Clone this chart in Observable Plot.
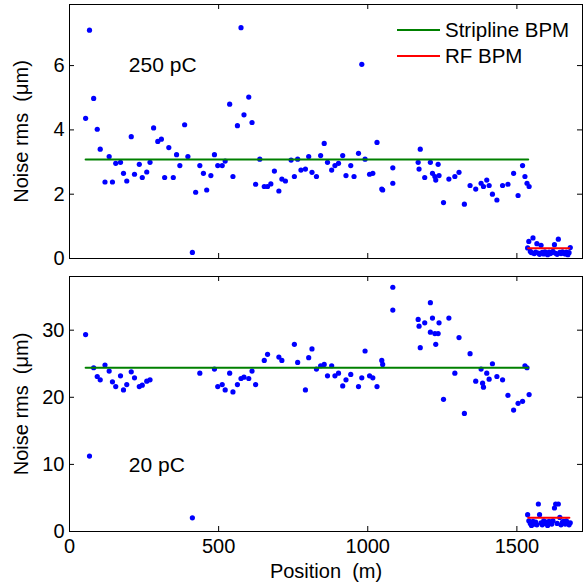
<!DOCTYPE html>
<html>
<head>
<meta charset="utf-8">
<script src="https://cdn.jsdelivr.net/npm/d3@7"></script>
<script src="https://cdn.jsdelivr.net/npm/@observablehq/plot@0.6"></script>
<style>
  html, body { margin: 0; padding: 0; background: #fff; }
  #wrap { position: relative; width: 583px; height: 584px; background: #fff; font-family: "Liberation Sans", Arial, sans-serif; }
  #wrap svg { display: block; overflow: visible; }
  .legend { position: absolute; left: 397px; top: 17px; font-size: 20.5px; color: #000; }
  .legend .row { display: flex; align-items: center; height: 26px; }
  .legend .sw { width: 43px; height: 2px; margin-right: 5px; }
</style>
</head>
<body>
<div id="wrap"></div>
<script>
// ---------- data ----------
const xDomain = [0, 1720];
const xTicks = [0, 500, 1000, 1500];

// 250 pC, stripline BPMs
const posTop = [54,67,81,93,103,119,133,144,155,171,181,192,207,218,234,244,259,270,282,296,308,319,333,348,359,370,386,397,412,423,437,449,460,474,486,497,512,522,537,548,563,575,585,601,612,624,638,653,664,675,687,702,712,724,743,754,765,776,791,802,813,828,842,854,865,879,890,902,916,927,943,954,969,980,991,1006,1017,1031,1047,1050,1084,1084,1169,1172,1176,1191,1210,1217,1225,1228,1236,1239,1254,1272,1292,1306,1324,1343,1362,1380,1388,1399,1407,1418,1433,1452,1470,1489,1504,1519,1527,1534,1541];
const noiseTop = [4.36,7.10,4.98,4.02,3.40,2.38,3.17,2.38,2.96,2.99,2.65,2.41,3.79,2.62,2.93,2.52,2.69,2.99,4.06,3.64,3.71,2.52,3.45,2.52,3.23,2.89,4.16,3.17,0.19,2.06,2.89,2.65,2.13,2.58,3.23,2.89,2.89,3.03,4.80,2.55,4.13,7.18,4.47,5.02,4.23,2.31,3.09,2.24,2.24,2.32,2.72,2.10,2.47,2.41,3.06,2.55,3.09,2.75,2.78,3.17,2.68,2.55,3.20,3.58,2.99,2.75,2.89,2.96,3.20,2.58,2.89,2.55,3.27,6.04,3.09,2.62,2.65,3.61,2.16,2.13,2.82,2.34,2.99,2.78,3.40,2.52,2.99,2.65,2.55,2.44,2.93,2.58,1.74,2.47,2.55,2.68,1.69,2.27,2.16,2.34,2.24,2.44,2.27,2.00,1.82,2.27,2.31,2.65,1.96,2.89,2.55,2.34,2.24];

// 20 pC, stripline BPMs
const posBottom = [54,67,81,93,103,119,133,144,155,171,181,192,207,218,234,244,259,270,412,437,486,497,512,522,537,548,563,575,585,601,612,624,653,664,702,712,754,765,791,802,813,828,842,854,865,879,890,902,916,927,943,969,980,991,1006,1017,1031,1047,1050,1084,1084,1169,1172,1176,1191,1210,1210,1217,1225,1228,1236,1239,1254,1272,1292,1306,1324,1343,1362,1380,1385,1388,1399,1407,1418,1433,1452,1470,1489,1504,1519,1527,1534,1541];
const noiseBottom = [29.35,11.24,24.4,23.1,22.6,24.8,23.9,22.3,21.6,23.2,21.1,21.9,23.8,22.9,21.6,21.8,22.4,22.6,2.04,23.6,24.2,21.6,21.9,21.1,23.6,20.8,21.9,22.8,23.0,22.8,23.9,21.9,25.5,26.4,26.0,25.5,27.9,25.2,21.1,25.9,27.2,24.2,24.7,24.9,23.2,24.7,23.2,23.6,21.7,22.6,23.4,21.6,22.9,26.9,23.2,22.9,21.6,25.5,24.9,36.4,33.0,31.6,30.6,27.4,31.1,34.1,29.7,31.8,29.5,27.9,29.5,31.1,19.7,31.8,23.6,28.9,17.6,26.5,22.4,24.2,22.1,21.5,23.6,22.7,25.0,23.1,22.6,20.3,18.1,19.1,19.4,24.7,24.4,20.4];

// RF BPMs (both charges)
const posRF = [1536,1540,1545,1549,1554,1558,1563,1567,1572,1576,1581,1585,1590,1594,1599,1603,1608,1612,1617,1621,1626,1630,1635,1639,1644,1648,1653,1657,1662,1666,1671,1675,1679];
const noiseRFTop = [0.33,0.53,0.22,0.18,0.64,0.15,0.20,0.46,0.17,0.13,0.41,0.19,0.14,0.21,0.16,0.12,0.20,0.15,0.18,0.22,0.43,0.16,0.13,0.60,0.19,0.15,0.21,0.17,0.14,0.20,0.12,0.18,0.34];
const noiseRFBottom = [2.5,1.6,1.2,0.9,1.5,1.1,1.4,1.0,4.1,2.5,1.3,1.0,1.6,1.2,1.4,0.9,1.5,1.3,1.1,1.6,3.5,4.1,1.2,4.1,2.1,1.0,1.4,1.5,1.1,1.6,1.3,1.0,1.3];

// mean levels
const stripRange = [54, 1538];
const rfRange = [1538, 1676];
const stripMean = [3.08, 24.4];   // top, bottom
const rfMean = [0.32, 2.04];      // top, bottom

const yDomains = [[0, 7.9], [0, 38]];
const yTicks = [[0, 2, 4, 6], [0, 10, 20, 30]];
const chargeLabels = ["250 pC", "20 pC"];
const chargeLabelPos = [[199, 6.0], [199, 9.85]];
const seriesNames = ["Stripline BPM", "RF BPM"];
const seriesColors = ["#008000", "#ff0000"];
const yLabel = "Noise rms\u00a0 (\u03bcm)";
const xLabel = "Position\u00a0 (m)";

// ---------- drawing ----------
const W = 583, ML = 69, MR = 1;
const TICK = 5;

function panel(i, pos, noise, rfNoise, opts) {
  const {height, marginTop, marginBottom, showX} = opts;
  const ph = height - marginTop - marginBottom;
  const pw = W - ML - MR;
  const stripSeg = stripRange.map(x => ({x, y: stripMean[i]}));
  const rfSeg = rfRange.map(x => ({x, y: rfMean[i]}));
  const pts = pos.map((x, k) => ({x, y: noise[k]}));
  const rfPts = posRF.map((x, k) => ({x, y: rfNoise[k]}));
  return Plot.plot({
    width: W, height, marginLeft: ML, marginRight: MR, marginTop, marginBottom,
    style: {fontFamily: "'Liberation Sans', Arial, sans-serif", fontSize: "20px", color: "#000", background: "transparent", overflow: "visible"},
    x: showX
      ? {domain: xDomain, ticks: xTicks, tickSize: 0, tickPadding: 7, tickFormat: d => String(d), label: xLabel, labelAnchor: "center", labelOffset: 46, labelArrow: "none"}
      : {domain: xDomain, axis: null},
    y: {domain: yDomains[i], ticks: yTicks[i], tickSize: 0, tickPadding: 5, tickFormat: d => String(d), label: yLabel, labelAnchor: "center", labelOffset: 56, labelArrow: "none"},
    marks: [
      Plot.dot(pts, {x: "x", y: "y", r: 2.6, fill: "#0000ff", stroke: "none"}),
      Plot.dot(rfPts, {x: "x", y: "y", r: 2.6, fill: "#0000ff", stroke: "none"}),
      Plot.line(stripSeg, {x: "x", y: "y", stroke: seriesColors[0], strokeWidth: 2}),
      Plot.line(rfSeg, {x: "x", y: "y", stroke: seriesColors[1], strokeWidth: 2}),
      Plot.text([chargeLabels[i]], {x: () => chargeLabelPos[i][0], y: () => chargeLabelPos[i][1], text: d => d, textAnchor: "start", fontSize: 21}),
      // inward ticks on all four sides
      Plot.ruleX(xTicks, {x: d => d, insetTop: ph - TICK, stroke: "#000"}),
      Plot.ruleX(xTicks, {x: d => d, insetBottom: ph - TICK, stroke: "#000"}),
      Plot.ruleY(yTicks[i], {y: d => d, insetRight: pw - TICK, stroke: "#000"}),
      Plot.ruleY(yTicks[i], {y: d => d, insetLeft: pw - TICK, stroke: "#000"}),
      Plot.frame({stroke: "#000"})
    ]
  });
}

const wrap = document.getElementById("wrap");
wrap.appendChild(panel(0, posTop, noiseTop, noiseRFTop, {height: 262, marginTop: 4, marginBottom: 4, showX: false}));
wrap.appendChild(panel(1, posBottom, noiseBottom, noiseRFBottom, {height: 322, marginTop: 14, marginBottom: 53, showX: true}));

// legend (inside top panel, no box)
const leg = document.createElement("div");
leg.className = "legend";
seriesNames.forEach((name, k) => {
  const row = document.createElement("div");
  row.className = "row";
  const sw = document.createElement("div");
  sw.className = "sw";
  sw.style.background = seriesColors[k];
  const t = document.createElement("span");
  t.textContent = name;
  row.appendChild(sw); row.appendChild(t);
  leg.appendChild(row);
});
wrap.appendChild(leg);
</script>
</body>
</html>
